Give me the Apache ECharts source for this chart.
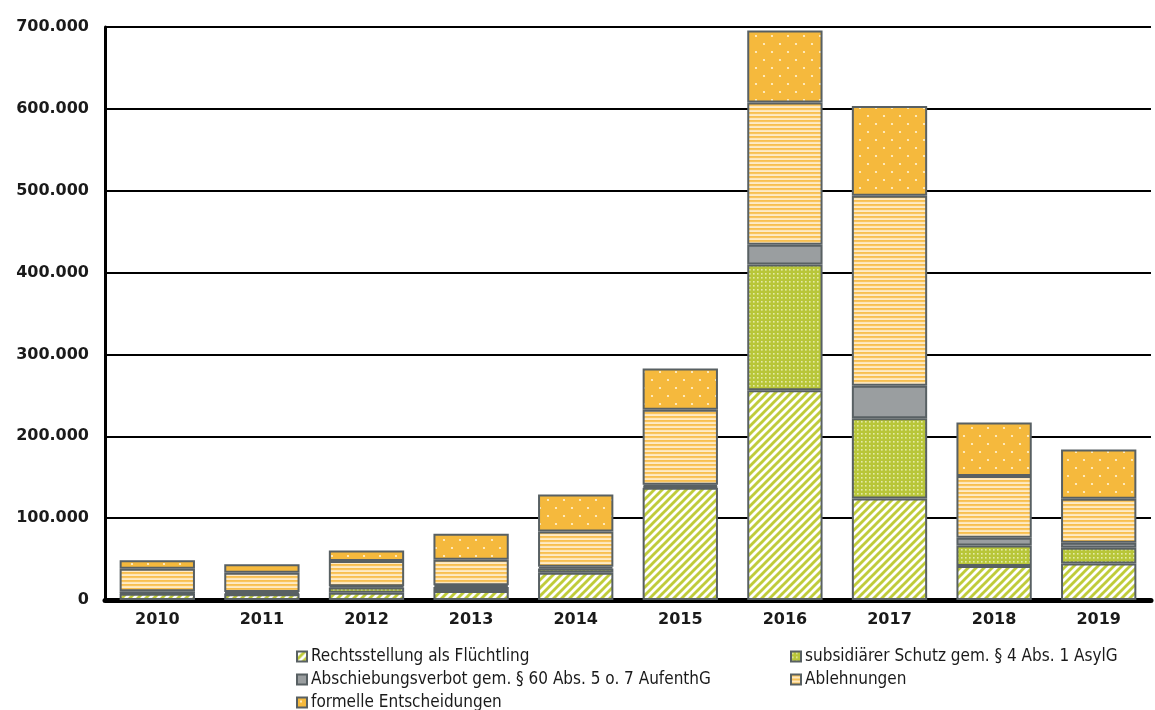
<!DOCTYPE html>
<html>
<head>
<meta charset="utf-8">
<script src="https://cdn.jsdelivr.net/npm/echarts@6/dist/echarts.min.js"></script>
<style>
  html, body { margin: 0; padding: 0; background: #fff; }
  #chart { width: 1155px; height: 710px; }
</style>
</head>
<body>
<div id="chart"></div>
<script>
// Asylentscheidungen nach Art der Entscheidung, 2010–2019
const years = ['2010', '2011', '2012', '2013', '2014', '2015', '2016', '2017', '2018', '2019'];
const fluechtling = [7700, 7100, 8800, 10900, 33300, 137100, 256100, 123900, 41400, 44500];
const subsidiaer = [500, 700, 6500, 5000, 5200, 1700, 153700, 98100, 25100, 19400];
const abschiebungsverbot = [2600, 1900, 1500, 2200, 2100, 2100, 24100, 39700, 9500, 5900];
const ablehnungen = [27300, 23700, 30700, 31100, 43000, 91500, 173800, 232300, 75400, 54000];
const formelle = [10500, 10400, 13000, 31800, 45300, 50300, 88000, 109500, 65500, 60100];
const yTicks = [0, 100000, 200000, 300000, 400000, 500000, 600000, 700000];

const seriesNames = [
  'Rechtsstellung als Flüchtling',
  'subsidiärer Schutz gem. § 4 Abs. 1 AsylG',
  'Abschiebungsverbot gem. § 60 Abs. 5 o. 7 AufenthG',
  'Ablehnungen',
  'formelle Entscheidungen'
];

// Fill patterns drawn on small canvases and tiled by the renderer
function makeCanvas(w, h) {
  const c = document.createElement('canvas');
  c.width = w; c.height = h;
  return c;
}
function hatchPattern() {
  const s = 8, c = makeCanvas(s, s), g = c.getContext('2d');
  g.fillStyle = '#ffffff'; g.fillRect(0, 0, s, s);
  g.strokeStyle = '#c0cc3a'; g.lineWidth = 2.9;
  for (let k = -1; k <= 1; k++) {
    g.beginPath();
    g.moveTo(k * s - 1, s + 1);
    g.lineTo(k * s + s + 1, -1);
    g.stroke();
  }
  return c;
}
function fineDotPattern() {
  const s = 4, c = makeCanvas(s, s), g = c.getContext('2d');
  g.fillStyle = '#b8c639'; g.fillRect(0, 0, s, s);
  g.fillStyle = '#e4eba6'; g.fillRect(1, 1, 1.6, 1.6);
  return c;
}
function stripePattern() {
  const c = makeCanvas(4, 4), g = c.getContext('2d');
  g.fillStyle = '#fddfa4'; g.fillRect(0, 0, 4, 4);
  g.fillStyle = '#f8bf4f'; g.fillRect(0, 0, 4, 1.8);
  g.fillStyle = '#fff8ea'; g.fillRect(0, 2.7, 4, 0.8);
  return c;
}
function sparseDotPattern() {
  const c = makeCanvas(16, 16), g = c.getContext('2d');
  g.fillStyle = '#f5b93d'; g.fillRect(0, 0, 16, 16);
  g.fillStyle = '#fff3d6';
  g.beginPath(); g.arc(4, 4, 1.1, 0, Math.PI * 2); g.fill();
  g.beginPath(); g.arc(12, 12, 1.1, 0, Math.PI * 2); g.fill();
  return c;
}

const fills = [
  { image: hatchPattern(), repeat: 'repeat' },
  { image: fineDotPattern(), repeat: 'repeat' },
  '#9a9ea0',
  { image: stripePattern(), repeat: 'repeat' },
  { image: sparseDotPattern(), repeat: 'repeat' }
];
const values = [fluechtling, subsidiaer, abschiebungsverbot, ablehnungen, formelle];

function thousands(v) {
  return String(v).replace(/\B(?=(\d{3})+(?!\d))/g, '.');
}

const legendFont = "'Liberation Sans Narrow', 'DejaVu Sans Condensed', sans-serif";
const legendPos = [
  { left: 291, top: 643 },
  { left: 785, top: 643 },
  { left: 291, top: 666 },
  { left: 785, top: 666 },
  { left: 291, top: 689 }
];

const chart = echarts.init(document.getElementById('chart'), null, { renderer: 'canvas' });
chart.setOption({
  animation: false,
  backgroundColor: '#ffffff',
  grid: { left: 105, right: 4, top: 27, bottom: 110, containLabel: false },
  legend: seriesNames.map((n, i) => ({
    data: [n],
    left: legendPos[i].left,
    top: legendPos[i].top,
    itemWidth: 10,
    itemHeight: 10,
    icon: 'rect',
    selectedMode: false,
    textStyle: { fontFamily: legendFont, fontSize: 17, color: '#1a1a1a', padding: [0, 0, 0, -1] }
  })),
  xAxis: {
    type: 'category',
    data: years,
    axisLine: { lineStyle: { color: '#000', width: 5 } },
    axisTick: { show: false },
    axisLabel: {
      margin: 12,
      fontFamily: "'DejaVu Sans', sans-serif",
      fontWeight: 'bold',
      fontSize: 16,
      color: '#1a1a1a'
    }
  },
  yAxis: {
    type: 'value',
    min: yTicks[0],
    max: yTicks[yTicks.length - 1],
    interval: yTicks[1] - yTicks[0],
    axisLine: { show: true, lineStyle: { color: '#000', width: 3 } },
    axisTick: { show: false },
    splitLine: { lineStyle: { color: '#000', width: 2 } },
    axisLabel: {
      margin: 16,
      fontFamily: "'DejaVu Sans', sans-serif",
      fontWeight: 'bold',
      fontSize: 16,
      color: '#1a1a1a',
      formatter: thousands
    }
  },
  series: seriesNames.map((n, i) => ({
    name: n,
    type: 'bar',
    stack: 'total',
    barWidth: '72%',
    data: values[i],
    itemStyle: { color: fills[i], borderColor: '#586063', borderWidth: 2 },
    emphasis: { disabled: true }
  }))
});
</script>
</body>
</html>
